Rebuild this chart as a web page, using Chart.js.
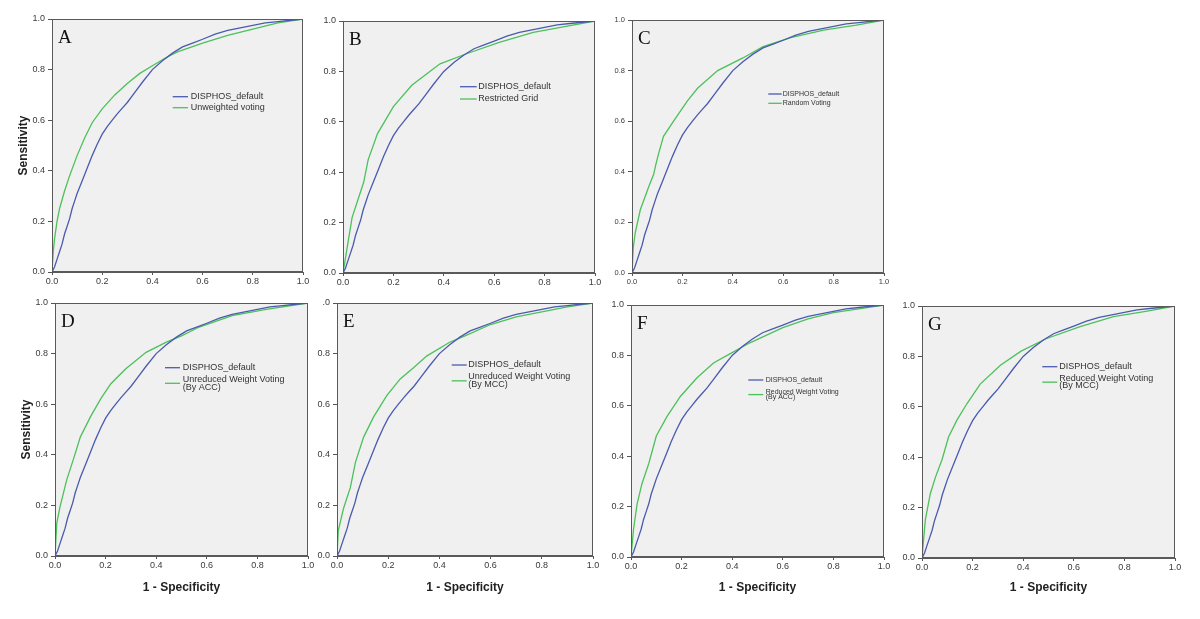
<!DOCTYPE html>
<html lang="en">
<head>
<meta charset="UTF-8">
<title>ROC curves - DISPHOS voting schemes</title>
<script src="https://cdn.jsdelivr.net/npm/chart.js"></script>
<style>
    body {
        margin: 0;
        background: #fff;
        width: 1200px;
        height: 619px;
        overflow: hidden;
        position: relative;
    }
    canvas {
        position: absolute;
    }
</style>
</head>
<body>
<script>
    // DISPHOS_default curve (same in every panel)
    const fprDefault = [0, 0.01, 0.02, 0.03, 0.04, 0.05, 0.06, 0.07, 0.08, 0.09, 0.1, 0.12, 0.14, 0.16, 0.18, 0.2, 0.22, 0.24, 0.26, 0.28, 0.3, 0.33, 0.36, 0.4, 0.44, 0.48, 0.52, 0.56, 0.6, 0.65, 0.7, 0.75, 0.8, 0.85, 0.9, 0.95, 1];
    const tprDefault = [0, 0.02, 0.05, 0.08, 0.11, 0.15, 0.18, 0.21, 0.25, 0.28, 0.31, 0.36, 0.41, 0.46, 0.505, 0.545, 0.575, 0.6, 0.625, 0.648, 0.67, 0.71, 0.75, 0.8, 0.835, 0.865, 0.89, 0.905, 0.92, 0.94, 0.955, 0.965, 0.975, 0.985, 0.99, 0.995, 1];

    // A - Unweighted voting
    const fprUnweighted = [0, 0.005, 0.01, 0.02, 0.03, 0.05, 0.07, 0.1, 0.13, 0.16, 0.2, 0.25, 0.3, 0.35, 0.4, 0.45, 0.5, 0.6, 0.7, 0.8, 0.9, 1];
    const tprUnweighted = [0, 0.08, 0.13, 0.2, 0.25, 0.32, 0.38, 0.46, 0.53, 0.59, 0.645, 0.7, 0.745, 0.785, 0.815, 0.845, 0.87, 0.905, 0.935, 0.96, 0.985, 1];

    // B - Restricted Grid
    const fprGrid = [0, 0.036, 0.082, 0.1, 0.137, 0.2, 0.273, 0.385, 0.49, 0.62, 0.755, 0.89, 1];
    const tprGrid = [0, 0.22, 0.36, 0.45, 0.553, 0.66, 0.745, 0.83, 0.87, 0.915, 0.955, 0.98, 1];

    // C - Random Voting
    const fprRandom = [0, 0.005, 0.013, 0.033, 0.066, 0.086, 0.095, 0.105, 0.125, 0.165, 0.22, 0.26, 0.34, 0.44, 0.52, 0.63, 0.76, 0.89, 1];
    const tprRandom = [0, 0.1, 0.16, 0.25, 0.34, 0.39, 0.43, 0.47, 0.54, 0.6, 0.68, 0.73, 0.8, 0.85, 0.895, 0.93, 0.96, 0.98, 1];

    // D - Unreduced Weight Voting (By ACC)
    const fprUnredAcc = [0, 0.007, 0.02, 0.046, 0.072, 0.1, 0.14, 0.18, 0.22, 0.28, 0.36, 0.44, 0.5, 0.57, 0.7, 0.835, 1];
    const tprUnredAcc = [0, 0.13, 0.195, 0.3, 0.38, 0.47, 0.55, 0.62, 0.68, 0.74, 0.805, 0.845, 0.87, 0.905, 0.95, 0.975, 1];

    // E - Unreduced Weight Voting (By MCC)
    const fprUnredMcc = [0, 0.005, 0.026, 0.052, 0.072, 0.104, 0.143, 0.195, 0.247, 0.3, 0.35, 0.44, 0.5, 0.6, 0.7, 0.8, 0.9, 1];
    const tprUnredMcc = [0, 0.1, 0.19, 0.27, 0.37, 0.47, 0.55, 0.635, 0.7, 0.745, 0.79, 0.845, 0.87, 0.915, 0.945, 0.965, 0.985, 1];

    // F - Reduced Weight Voting (By ACC)
    const fprRedAcc = [0, 0.01, 0.024, 0.043, 0.07, 0.1, 0.142, 0.195, 0.26, 0.326, 0.38, 0.47, 0.6, 0.7, 0.8, 0.9, 1];
    const tprRedAcc = [0, 0.11, 0.21, 0.29, 0.37, 0.48, 0.557, 0.637, 0.71, 0.77, 0.8, 0.85, 0.91, 0.945, 0.97, 0.985, 1];

    // G - Reduced Weight Voting (By MCC)
    const fprRedMcc = [0, 0.013, 0.033, 0.053, 0.079, 0.105, 0.138, 0.178, 0.23, 0.31, 0.39, 0.49, 0.625, 0.757, 0.89, 1];
    const tprRedMcc = [0, 0.15, 0.256, 0.32, 0.39, 0.48, 0.547, 0.613, 0.69, 0.765, 0.82, 0.87, 0.918, 0.958, 0.98, 1];

    const defaultName = 'DISPHOS_default';

    const FONT = '"Liberation Sans", Arial, sans-serif';
    const BLUE = '#4a5aae';
    const GREEN = '#4cc05a';

    function toPoints(xs, ys) {
        return xs.map((x, i) => ({x: x, y: ys[i]}));
    }

    const rocDeco = {
        id: 'rocDeco',
        beforeDraw(chart) {
            const a = chart.chartArea;
            const ctx = chart.ctx;
            ctx.save();
            ctx.fillStyle = '#f0f0f0';
            ctx.fillRect(a.left, a.top, a.right - a.left, a.bottom - a.top);
            ctx.restore();
        },
        afterDraw(chart, args, o) {
            const a = chart.chartArea;
            const ctx = chart.ctx;
            ctx.save();
            ctx.strokeStyle = '#5a5a5a';
            ctx.lineWidth = 1;
            ctx.strokeRect(a.left + 0.5, a.top + 0.5, a.right - a.left - 1, a.bottom - a.top - 1);

            // panel letter
            ctx.fillStyle = '#111';
            ctx.font = '19px "Liberation Serif", "Times New Roman", serif';
            ctx.textBaseline = 'alphabetic';
            ctx.fillText(o.letter, a.left + 6, a.top + 24);

            // legend
            const L = o.legend;
            ctx.font = L.size + 'px ' + FONT;
            ctx.textBaseline = 'middle';
            ctx.lineWidth = 1.3;
            ctx.strokeStyle = BLUE;
            ctx.beginPath();
            ctx.moveTo(a.left + L.lx0, a.top + L.rows[0]);
            ctx.lineTo(a.left + L.lx1, a.top + L.rows[0]);
            ctx.stroke();
            ctx.fillStyle = '#333';
            ctx.fillText(defaultName, a.left + L.tx, a.top + L.rows[0]);

            const gRows = L.rows.slice(1);
            const gy = gRows.reduce((s, v) => s + v, 0) / gRows.length;
            ctx.strokeStyle = GREEN;
            ctx.beginPath();
            ctx.moveTo(a.left + L.lx0, a.top + gy);
            ctx.lineTo(a.left + L.lx1, a.top + gy);
            ctx.stroke();
            o.name.forEach((t, i) => ctx.fillText(t, a.left + L.tx, a.top + gRows[i]));
            ctx.restore();
        }
    };

    const panels = [
        {letter: 'A', l: 52, t: 19, r: 303, b: 272, yTitleX: 23.3, xTitle: false, tick: 9,
            fpr: fprUnweighted, tpr: tprUnweighted, name: ['Unweighted voting'],
            legend: {lx0: 120.7, lx1: 136, tx: 138.7, rows: [77.7, 88.7], size: 9}},
        {letter: 'B', l: 343, t: 21, r: 595, b: 273, xTitle: false, tick: 9,
            fpr: fprGrid, tpr: tprGrid, name: ['Restricted Grid'],
            legend: {lx0: 117, lx1: 133.7, tx: 135.3, rows: [65.7, 78], size: 9}},
        {letter: 'C', l: 632, t: 20, r: 884, b: 273, xTitle: false, tick: 7.5,
            fpr: fprRandom, tpr: tprRandom, name: ['Random Voting'],
            legend: {lx0: 136.3, lx1: 149.7, tx: 150.7, rows: [74, 83.3], size: 7}},
        {letter: 'D', l: 55, t: 303, r: 308, b: 556, yTitleX: 26.7, xTitle: true, tick: 9,
            fpr: fprUnredAcc, tpr: tprUnredAcc, name: ['Unreduced Weight Voting', '(By ACC)'],
            legend: {lx0: 110, lx1: 125, tx: 127.7, rows: [64.7, 76.3, 84.3], size: 9}},
        {letter: 'E', l: 337, t: 303, r: 593, b: 556, xTitle: true, tick: 9, topLabel: '.0',
            fpr: fprUnredMcc, tpr: tprUnredMcc, name: ['Unreduced Weight Voting', '(By MCC)'],
            legend: {lx0: 114.7, lx1: 129.7, tx: 131.3, rows: [62, 73.7, 82], size: 9}},
        {letter: 'F', l: 631, t: 305, r: 884, b: 557, xTitle: true, tick: 9,
            fpr: fprRedAcc, tpr: tprRedAcc, name: ['Reduced Weight Voting', '(By ACC)'],
            legend: {lx0: 117.3, lx1: 132.3, tx: 134.7, rows: [75, 86.7, 92.5], size: 7}},
        {letter: 'G', l: 922, t: 306, r: 1175, b: 558, xTitle: true, tick: 9,
            fpr: fprRedMcc, tpr: tprRedMcc, name: ['Reduced Weight Voting', '(By MCC)'],
            legend: {lx0: 120.3, lx1: 135.3, tx: 137.3, rows: [60.7, 72.3, 80], size: 9}}
    ];

    function buildPanel(p) {
        const hasYTitle = p.yTitleX !== undefined;
        const yw = hasYTitle ? p.l : 40;
        const padTop = 10, padRight = 14;
        const xh = p.xTitle ? 45 : 22;
        const w = p.r - p.l + yw + padRight;
        const h = p.b - p.t + padTop + xh;

        const cv = document.createElement('canvas');
        cv.width = w;
        cv.height = h;
        cv.style.width = w + 'px';
        cv.style.height = h + 'px';
        cv.style.left = (p.l - yw) + 'px';
        cv.style.top = (p.t - padTop) + 'px';
        document.body.appendChild(cv);

        const tickFont = {size: p.tick, family: FONT};
        const titleFont = {size: 12, weight: 'bold', family: FONT};

        new Chart(cv.getContext('2d'), {
            type: 'line',
            data: {
                datasets: [
                    {label: defaultName, data: toPoints(fprDefault, tprDefault), borderColor: BLUE},
                    {label: p.name.join(' '), data: toPoints(p.fpr, p.tpr), borderColor: GREEN}
                ]
            },
            options: {
                responsive: false,
                animation: false,
                layout: {padding: {top: padTop, right: padRight, left: 0, bottom: 0}},
                elements: {
                    point: {radius: 0},
                    line: {borderWidth: 1.3, tension: 0, fill: false}
                },
                plugins: {
                    legend: {display: false},
                    tooltip: {enabled: false},
                    rocDeco: {letter: p.letter, legend: p.legend, name: p.name}
                },
                scales: {
                    x: {
                        type: 'linear', min: 0, max: 1,
                        afterFit: s => { s.height = xh; },
                        ticks: {
                            stepSize: 0.2, padding: 1, color: '#3a3a3a', font: tickFont,
                            maxRotation: 0, autoSkip: false,
                            callback: v => v.toFixed(1)
                        },
                        grid: {drawOnChartArea: false, tickLength: 3, color: '#555'},
                        border: {color: '#5a5a5a', width: 1},
                        title: {
                            display: p.xTitle, text: '1 - Specificity', color: '#222', font: titleFont,
                            padding: {top: 0, bottom: p.b + xh - 7.2 - 588}
                        }
                    },
                    y: {
                        type: 'linear', min: 0, max: 1,
                        afterFit: s => { s.width = yw; },
                        ticks: {
                            stepSize: 0.2, padding: 3, color: '#3a3a3a', font: tickFont,
                            callback: v => (v === 1 && p.topLabel) ? p.topLabel : v.toFixed(1)
                        },
                        grid: {drawOnChartArea: false, tickLength: 4, color: '#555'},
                        border: {color: '#5a5a5a', width: 1},
                        title: {
                            display: hasYTitle, text: 'Sensitivity', color: '#222', font: titleFont,
                            padding: {top: hasYTitle ? p.yTitleX - (p.l - yw) - 7.2 : 0, bottom: 0}
                        }
                    }
                }
            },
            plugins: [rocDeco]
        });
    }

    panels.forEach(buildPanel);
</script>
</body>
</html>
